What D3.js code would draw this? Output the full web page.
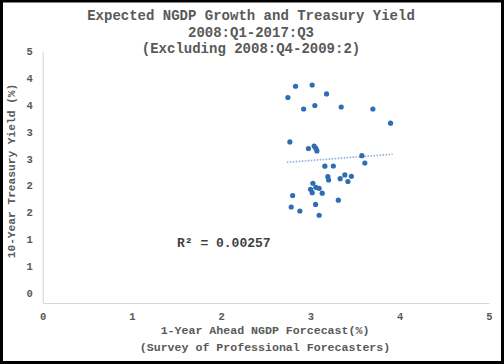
<!DOCTYPE html>
<html><head><meta charset="utf-8">
<script src="https://cdn.jsdelivr.net/npm/d3@7"></script>
<style>body{margin:0;background:#fff}svg{display:block}</style>
</head><body>
<svg id="c" width="504" height="364"></svg>
<script>
const titleLines = ["Expected NGDP Growth and Treasury Yield","2008:Q1-2017:Q3","(Excluding 2008:Q4-2009:2)"];
const xTitleLines = ["1-Year Ahead NGDP Forcecast(%)","(Survey of Professional Forecasters)"];
const yTitle = "10-Year Treasury Yield (%)";
const xTicks = [0,1,2,3,4,5];
const yTicks = [0,0.5,1,1.5,2,2.5,3,3.5,4,4.5];
const yTickLabels = ["0","1","1","2","2","3","3","4","4","5"];
const ngdp = [2.833,3.019,3.180,2.747,3.049,2.923,3.344,3.699,3.897,
  2.769,2.977,3.041,3.060,3.072,
  3.576,3.609,
  3.161,3.256,3.195,3.203,3.333,3.385,3.458,3.419,
  3.027,3.001,3.060,3.097,3.019,3.131,
  2.800,2.784,2.881,3.057,3.097,3.312];
const yieldV = [3.852,3.875,3.708,3.642,3.493,3.428,3.465,3.428,3.164,
  2.813,2.691,2.738,2.695,2.645,
  2.557,2.421,
  2.361,2.365,2.165,2.104,2.128,2.198,2.173,2.076,
  2.043,1.930,1.968,1.949,1.867,1.858,
  1.815,1.600,1.526,1.648,1.446,1.728];
const trendX = [2.735, 3.92];
const trendY = [2.434, 2.584];
const r2Label = "R² = 0.00257";

const svg = d3.select("#c");
const x = d3.scaleLinear().domain([0,5]).range([42.7,489]);
const y = d3.scaleLinear().domain([-0.19,4.5]).range([303,51.5]);
const font = "'Liberation Mono','Courier New',monospace";
const gray = "#595959";

// frame
svg.append("rect").attr("x",1.5).attr("y",1).attr("width",501).attr("height",361.5)
  .attr("fill","none").attr("stroke","#000").attr("stroke-width",3);

// title
svg.append("g").selectAll("text").data(titleLines).join("text")
  .attr("x",251).attr("y",(d,i)=>20+i*16.5).attr("text-anchor","middle")
  .attr("font-family",font).attr("font-weight","bold").attr("font-size",14)
  .attr("fill",gray).text(d=>d);

// axes
const xAxis = d3.axisBottom(x).tickValues(xTicks).tickSize(0).tickPadding(10).tickFormat(d3.format("d"));
const gx = svg.append("g").attr("transform",`translate(0,${y.range()[0]})`).call(xAxis);
const yAxis = d3.axisLeft(y).tickValues(yTicks).tickSize(0).tickPadding(10).tickFormat((d,i)=>yTickLabels[i]);
const gy = svg.append("g").attr("transform",`translate(${x(0)},0)`).call(yAxis);
[gx,gy].forEach(g=>{
  g.select(".domain").attr("stroke","#d9d9d9").attr("stroke-width",1.2);
  g.selectAll("text").attr("font-family",font).attr("font-weight","bold").attr("font-size",10.5).attr("fill",gray);
});

// axis titles
svg.append("g").selectAll("text").data(xTitleLines).join("text")
  .attr("x",265).attr("y",(d,i)=>334+i*16.5).attr("text-anchor","middle")
  .attr("font-family",font).attr("font-weight","bold").attr("font-size",11.6)
  .attr("fill",gray).text(d=>d);
svg.append("text").attr("transform","translate(15,171) rotate(-90)")
  .attr("text-anchor","middle").attr("font-family",font).attr("font-weight","bold")
  .attr("font-size",11.2).attr("fill",gray).text(yTitle);

// trend line
svg.append("line").attr("x1",x(trendX[0])).attr("y1",y(trendY[0]))
  .attr("x2",x(trendX[1])).attr("y2",y(trendY[1]))
  .attr("stroke","#8eaadb").attr("stroke-width",1.6).attr("stroke-dasharray","1.5,1.5");

// points
svg.append("g").selectAll("circle").data(ngdp).join("circle")
  .attr("cx",d=>x(d)).attr("cy",(d,i)=>y(yieldV[i])).attr("r",2.6).attr("fill","#2e6db4");

// R2
svg.append("text").attr("x",177).attr("y",246.5).attr("font-family",font).attr("font-weight","bold")
  .attr("font-size",13).attr("fill","#404040").text(r2Label);
</script>
</body></html>
